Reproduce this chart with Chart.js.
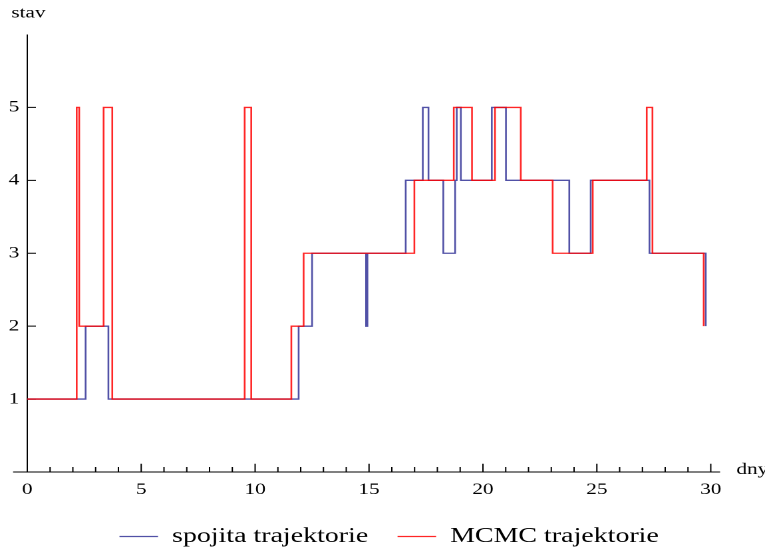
<!DOCTYPE html>
<html>
<head>
<meta charset="utf-8">
<script src="https://cdn.jsdelivr.net/npm/chart.js@4.4.0/dist/chart.umd.min.js"></script>
<style>
  html, body { margin: 0; padding: 0; background: #fff; }
  /* the reference is a horizontally stretched export, so stretch the canvas the same way */
  #wrap { width: 575px; height: 550px; transform: scaleX(1.3304); transform-origin: 0 0; }
</style>
</head>
<body>
<div id="wrap"><canvas id="trajChart" width="575" height="550"></canvas></div>
<script>
// jump times (dny) and new state after each jump
var redTimes  = [0, 2.17, 2.28, 3.35, 3.73, 9.54, 9.83, 11.59, 12.13, 16.99, 18.72, 19.52, 20.53, 21.66, 23.06, 24.82, 27.19, 27.44, 29.69];
var redStates = [1, 5, 2, 5, 1, 5, 1, 2, 3, 4, 5, 4, 5, 4, 3, 4, 5, 3, 2];

var blueTimes  = [0, 2.56, 3.56, 11.91, 12.50, 14.87, 14.93, 16.61, 17.36, 17.61, 18.26, 18.78, 18.85, 19.03, 20.39, 21.01, 23.79, 24.73, 27.31, 29.78];
var blueStates = [1, 2, 1, 2, 3, 2, 3, 4, 5, 4, 3, 4, 5, 4, 5, 4, 3, 4, 3, 2];

var xTickLabels = [0, 5, 10, 15, 20, 25, 30];
var yTickLabels = [1, 2, 3, 4, 5];

function toPoints(times, states) {
  return times.map(function (t, i) { return {x: t, y: states[i]}; });
}

var serif = '"Liberation Serif", "Times New Roman", serif';

// axes in the Mathematica style: crossing at the origin, ticks pointing inwards
var axesPlugin = {
  id: 'mmaAxes',
  beforeDatasetsDraw: function (chart) {
    var ctx = chart.ctx;
    var xs = chart.scales.x, ys = chart.scales.y;
    var x0 = xs.getPixelForValue(0);
    var y0 = ys.getPixelForValue(0);
    ctx.save();
    ctx.strokeStyle = '#000';
    ctx.lineWidth = 1;
    ctx.beginPath();
    ctx.moveTo(x0 - 10.7, y0);
    ctx.lineTo(xs.getPixelForValue(30.41), y0);
    ctx.moveTo(x0, ys.getPixelForValue(6));
    ctx.lineTo(x0, y0);
    for (var i = 1; i <= 30; i++) {
      var px = xs.getPixelForValue(i);
      var len = (i % 5 === 0) ? 8.3 : 5;
      ctx.moveTo(px, y0);
      ctx.lineTo(px, y0 - len);
    }
    yTickLabels.forEach(function (v) {
      var py = ys.getPixelForValue(v);
      ctx.moveTo(x0, py);
      ctx.lineTo(x0 + 6.5, py);
    });
    ctx.stroke();

    ctx.fillStyle = '#000';
    ctx.font = '16px ' + serif;
    ctx.textAlign = 'left';
    ctx.textBaseline = 'alphabetic';
    ctx.fillText('stav', 8.5, 17.5);
    ctx.fillText('dny', 553.5, 474);
    ctx.restore();
  }
};

var ctx = document.getElementById('trajChart').getContext('2d');
var trajChart = new Chart(ctx, {
  type: 'line',
  data: {
    datasets: [
      {
        label: 'MCMC trajektorie',
        data: toPoints(redTimes, redStates),
        borderColor: 'rgba(255,0,0,0.85)',
        backgroundColor: 'rgba(255,0,0,0.85)',
        borderWidth: 1.3,
        stepped: 'before',
        pointRadius: 0,
        fill: false
      },
      {
        label: 'spojita trajektorie',
        data: toPoints(blueTimes, blueStates),
        borderColor: 'rgba(50,50,150,0.85)',
        backgroundColor: 'rgba(50,50,150,0.85)',
        borderWidth: 1.3,
        stepped: 'before',
        pointRadius: 0,
        fill: false
      }
    ]
  },
  options: {
    responsive: false,
    devicePixelRatio: 2,
    animation: false,
    layout: { padding: { left: 0, right: -10, top: 34.5, bottom: -7 } },
    scales: {
      x: {
        type: 'linear',
        min: 0,
        max: 32.38,
        grid: { display: false, drawTicks: false },
        border: { display: false },
        afterFit: function (scale) { scale.height = 32; },
        ticks: {
          stepSize: 5,
          includeBounds: false,
          padding: 8,
          color: '#000',
          font: { family: serif, size: 16 },
          callback: function (v) { return xTickLabels.indexOf(v) >= 0 ? v : ''; }
        }
      },
      y: {
        type: 'linear',
        min: 0,
        max: 6,
        grid: { display: false, drawTicks: false },
        border: { display: false },
        afterFit: function (scale) { scale.width = 20.5; },
        ticks: {
          stepSize: 1,
          padding: 6,
          color: '#000',
          font: { family: serif, size: 16 },
          callback: function (v) { return yTickLabels.indexOf(v) >= 0 ? v : ''; }
        }
      }
    },
    plugins: {
      tooltip: { enabled: false },
      legend: {
        position: 'bottom',
        labels: {
          usePointStyle: true,
          pointStyle: 'line',
          pointStyleWidth: 29,
          padding: 22,
          color: '#000',
          font: { family: serif, size: 21 },
          sort: function (a, b) { return b.datasetIndex - a.datasetIndex; }
        }
      }
    }
  },
  plugins: [axesPlugin]
});
</script>
</body>
</html>
